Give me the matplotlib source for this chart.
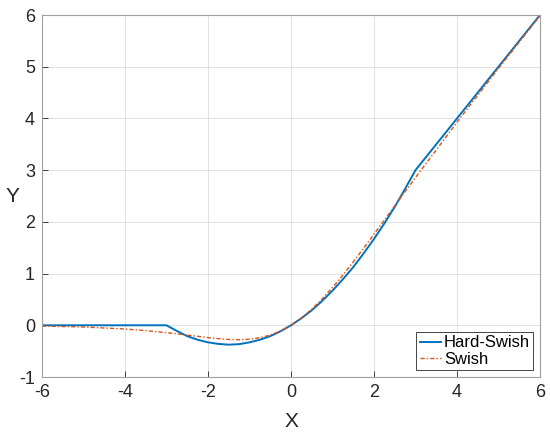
import matplotlib
matplotlib.use('Agg')
import matplotlib.pyplot as plt

plt.rcParams['font.family'] = ['Liberation Sans', 'DejaVu Sans']
plt.rcParams['axes.unicode_minus'] = False

# Hard-Swish
hs_x = [-6, -5, -4, -3, -2.75, -2.5, -2.25, -2, -1.75, -1.5, -1.25, -1, -0.75, -0.5, -0.25,
        0, 0.25, 0.5, 0.75, 1, 1.25, 1.5, 1.75, 2, 2.25, 2.5, 2.75, 3, 4, 5, 6]
hs_y = [0, 0, 0, 0, -0.11, -0.21, -0.28, -0.33, -0.36, -0.375, -0.365, -0.33, -0.28, -0.21, -0.115,
        0, 0.135, 0.29, 0.47, 0.67, 0.89, 1.125, 1.39, 1.67, 1.97, 2.29, 2.64, 3, 4, 5, 6]

# Swish
sw_x = [-6, -5, -4, -3.5, -3, -2.5, -2, -1.75, -1.5, -1.25, -1, -0.75, -0.5, -0.25,
        0, 0.25, 0.5, 0.75, 1, 1.25, 1.5, 1.75, 2, 2.5, 3, 3.5, 4, 5, 6]
sw_y = [-0.015, -0.033, -0.072, -0.103, -0.142, -0.189, -0.238, -0.258, -0.274, -0.279, -0.269, -0.24, -0.189, -0.11,
        0, 0.14, 0.311, 0.51, 0.731, 0.97, 1.226, 1.49, 1.762, 2.31, 2.857, 3.39, 3.928, 4.967, 5.985]

x_ticks = [-6, -4, -2, 0, 2, 4, 6]
y_ticks = [-1, 0, 1, 2, 3, 4, 5, 6]

fig = plt.figure(figsize=(5.5, 4.36), dpi=100)
ax = fig.add_axes([42 / 550, 1 - 377 / 436, 498 / 550, 362 / 436])

ax.plot(hs_x, hs_y, color='#0072BD', linewidth=1.4, label='Hard-Swish')
ax.plot(sw_x, sw_y, color='#D95319', linewidth=1.0, linestyle=(0, (3, 1.5, 1, 1.5)), label='Swish')

ax.set_xlim(-6, 6)
ax.set_ylim(-1, 6)
ax.set_xticks(x_ticks)
ax.set_yticks(y_ticks)
ax.tick_params(direction='in', labelsize=13, labelcolor='#262626', color='#262626', length=4, width=0.6, pad=5)
ax.grid(True, color='#dcdcdc', linewidth=0.6)
for s in ax.spines.values():
    s.set_color('#a0a0a0')
    s.set_linewidth(0.8)

ax.set_xlabel('X', fontsize=15, color='#262626')
ax.xaxis.set_label_coords(0.5, -0.098)
ax.set_ylabel('Y', fontsize=15, rotation=0, color='#262626')
ax.yaxis.set_label_coords(-0.06, 0.472)

leg = ax.legend(loc='lower right', fontsize=12, handlelength=1.3, handletextpad=0.15,
                borderpad=0.2, labelspacing=0.1, fancybox=False, framealpha=1,
                borderaxespad=0.4)
leg.get_frame().set_edgecolor('#262626')
leg.get_frame().set_linewidth(0.6)

plt.savefig('out.png')
